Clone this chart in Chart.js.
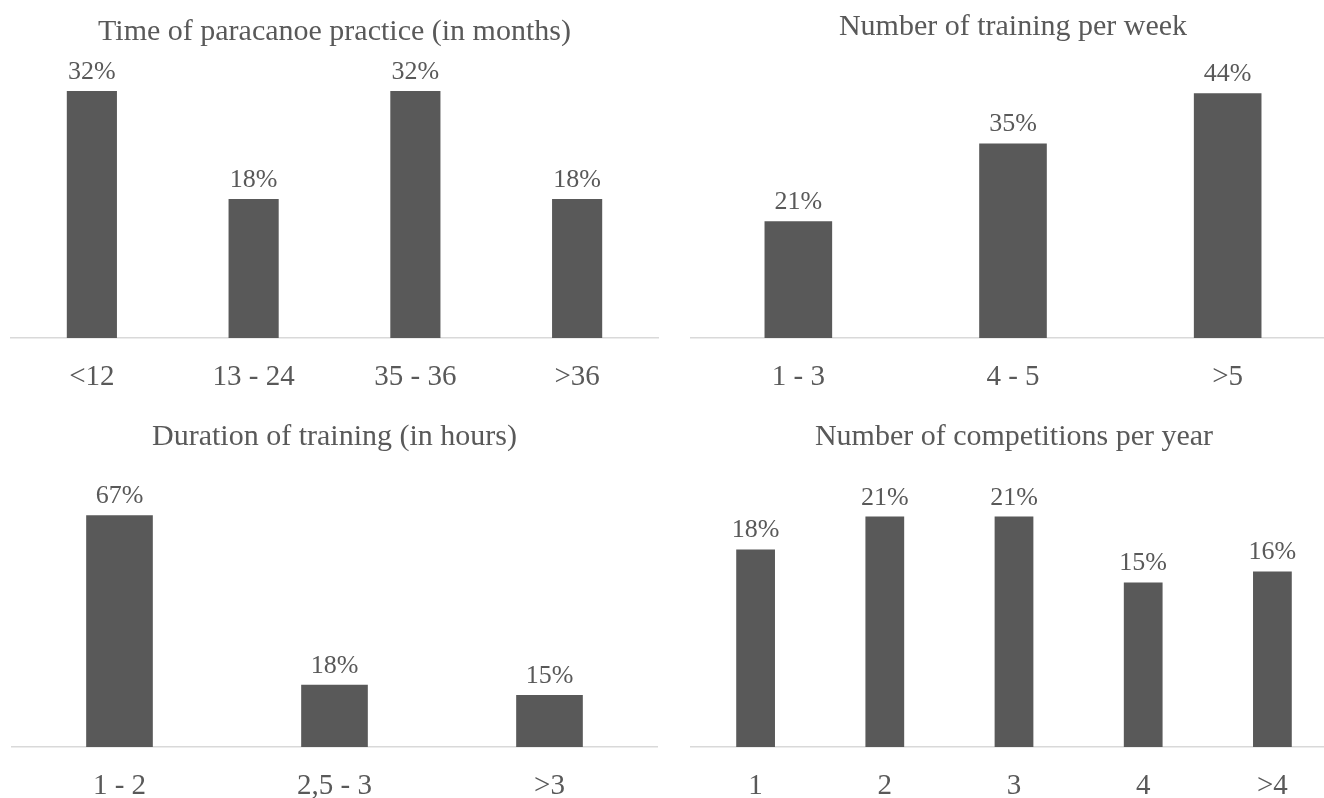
<!DOCTYPE html>
<html>
<head>
<meta charset="utf-8">
<script src="https://cdn.jsdelivr.net/npm/chart.js@4/dist/chart.umd.min.js"></script>
<style>
  html, body { margin: 0; padding: 0; background: #ffffff; width: 1324px; height: 798px; overflow: hidden; }
  body { position: relative; }
  canvas { position: absolute; display: block; }
</style>
</head>
<body>
<canvas id="practice" width="662" height="424" style="left:0px;top:0px"></canvas>
<canvas id="weekly" width="660" height="424" style="left:680px;top:0px"></canvas>
<canvas id="duration" width="662" height="439" style="left:0px;top:395px"></canvas>
<canvas id="competitions" width="660" height="439" style="left:680px;top:395px"></canvas>
<script>
// Survey results, in percent of respondents
const practiceTitle = 'Time of paracanoe practice (in months)';
const practiceCategories = ['<12', '13 - 24', '35 - 36', '>36'];
const practiceValues = [32, 18, 32, 18];

const weeklyTitle = 'Number of training per week';
const weeklyCategories = ['1 - 3', '4 - 5', '>5'];
const weeklyValues = [21, 35, 44];

const durationTitle = 'Duration of training (in hours)';
const durationCategories = ['1 - 2', '2,5 - 3', '>3'];
const durationValues = [67, 18, 15];

const competitionsTitle = 'Number of competitions per year';
const competitionsCategories = ['1', '2', '3', '4', '>4'];
const competitionsValues = [18, 21, 21, 15, 16];

const INK = '#595959';
const AXIS_LINE = '#d9d9d9';
const SERIF = "'Liberation Serif', 'Times New Roman', serif";

// Writes "NN%" above each bar
const valueLabels = {
  id: 'valueLabels',
  afterDatasetsDraw(chart) {
    const ctx = chart.ctx;
    const meta = chart.getDatasetMeta(0);
    const values = chart.data.datasets[0].data;
    ctx.save();
    ctx.font = '26px ' + SERIF;
    ctx.fillStyle = INK;
    ctx.textAlign = 'center';
    ctx.textBaseline = 'alphabetic';
    meta.data.forEach((bar, i) => {
      ctx.fillText(values[i] + '%', bar.x, bar.y - 12);
    });
    ctx.restore();
  }
};

function barPanel(id, title, categories, values, cfg) {
  return new Chart(document.getElementById(id), {
    type: 'bar',
    data: {
      labels: categories,
      datasets: [{
        data: values,
        backgroundColor: INK,
        borderWidth: 0,
        categoryPercentage: 1,
        barPercentage: cfg.barPct
      }]
    },
    options: {
      responsive: false,
      animation: false,
      events: [],
      layout: { padding: { left: cfg.padL, right: cfg.padR, top: 0, bottom: cfg.padB } },
      plugins: {
        legend: { display: false },
        tooltip: { enabled: false },
        title: {
          display: true,
          text: title,
          color: INK,
          font: { family: SERIF, size: 30, weight: 'normal' },
          padding: { top: cfg.titleTop, bottom: cfg.titleBottom }
        }
      },
      scales: {
        x: {
          grid: { display: false, drawTicks: false },
          border: { display: true, color: AXIS_LINE, width: 1.5 },
          ticks: { color: INK, padding: 22, font: { family: SERIF, size: 29 } }
        },
        y: {
          display: false,
          min: 0,
          max: cfg.yMax
        }
      }
    },
    plugins: [valueLabels]
  });
}

barPanel('practice', practiceTitle, practiceCategories, practiceValues,
  { barPct: 0.31, padL: 11, padR: 4, padB: 7.2, titleTop: 14, titleBottom: 10, yMax: 36 });

barPanel('weekly', weeklyTitle, weeklyCategories, weeklyValues,
  { barPct: 0.315, padL: 11, padR: 5, padB: 7.2, titleTop: 9, titleBottom: 15, yMax: 50 });

barPanel('duration', durationTitle, durationCategories, durationValues,
  { barPct: 0.31, padL: 12, padR: 5, padB: 8.2, titleTop: 24, titleBottom: 10, yMax: 81.5 });

barPanel('competitions', competitionsTitle, competitionsCategories, competitionsValues,
  { barPct: 0.30, padL: 11, padR: 3, padB: 8.2, titleTop: 24, titleBottom: 10, yMax: 25.7 });
</script>
</body>
</html>
